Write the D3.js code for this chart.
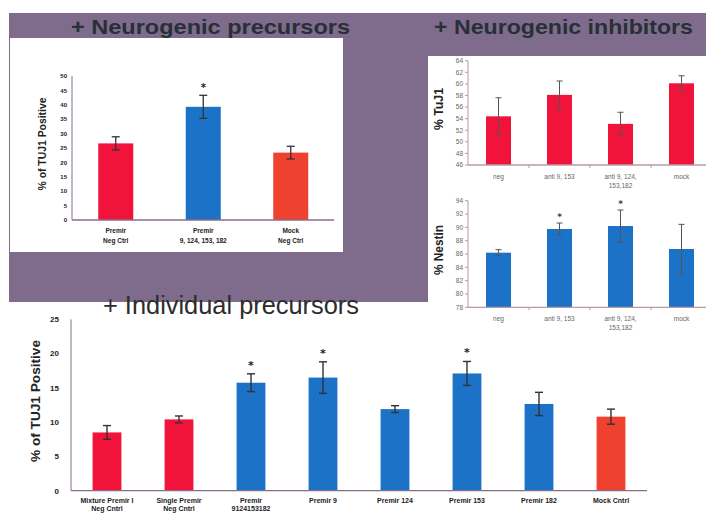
<!DOCTYPE html>
<html><head><meta charset="utf-8">
<script src="https://cdn.jsdelivr.net/npm/d3@7/dist/d3.min.js"></script>
<style>html,body{margin:0;padding:0;background:#fff;}svg{display:block;}</style>
</head><body>
<svg id="chart" width="706" height="513"></svg>
<script>
// ---------- DATA ----------
const precCategories = [["Premir", "Neg Ctrl"], ["Premir", "9, 124, 153, 182"], ["Mock", "Neg Ctrl"]];
const precGroups = ["neg", "treat", "mock"];
const precValues = [26.6, 39.3, 23.4];
const precErrors = [2.3, 4.0, 2.2];
const precStars = [false, true, false];
const precTicks = [0, 5, 10, 15, 20, 25, 30, 35, 40, 45, 50];

const inhCategories = [["neg"], ["anti 9, 153"], ["anti 9, 124,", "153,182"], ["mock"]];
const tuj1Values = [54.4, 58.1, 53.1, 60.1];
const tuj1Errors = [3.2, 2.4, 2.0, 1.3];
const tuj1Stars = [false, false, false, false];
const tuj1Ticks = [46, 48, 50, 52, 54, 56, 58, 60, 62, 64];

const nestinValues = [86.2, 89.75, 90.2, 86.75];
const nestinErrors = [0.45, 0.9, 2.4, 3.7];
const nestinStars = [false, true, true, false];
const nestinTicks = [78, 80, 82, 84, 86, 88, 90, 92, 94];

const indCategories = [["Mixture Premir I", "Neg Cntrl"], ["Single Premir", "Neg Cntrl"], ["Premir", "9124153182"],
  ["Premir 9"], ["Premir 124"], ["Premir 153"], ["Premir 182"], ["Mock Cntrl"]];
const indGroups = ["neg", "neg", "treat", "treat", "treat", "treat", "treat", "mock"];
const indValues = [8.5, 10.4, 15.75, 16.5, 11.9, 17.1, 12.65, 10.8];
const indErrors = [1.0, 0.5, 1.3, 2.3, 0.5, 1.75, 1.7, 1.1];
const indStars = [false, false, true, true, false, true, false, false];
const indTicks = [0, 5, 10, 15, 20, 25];

// ---------- STYLE ----------
const groupColor = {neg: "#f2133b", treat: "#1c72c7", mock: "#ee4130"};
const svg = d3.select("#chart");
const purple = "#7f6b8b";

// background frames
svg.append("rect").attr("x", 9).attr("y", 13).attr("width", 697).attr("height", 289).attr("fill", purple);
svg.append("rect").attr("x", 10).attr("y", 38).attr("width", 333).attr("height", 214).attr("fill", "#fff");
svg.append("rect").attr("x", 428).attr("y", 56).attr("width", 278).attr("height", 280).attr("fill", "#fff");

// titles
function title(text, x, y, len, opts) {
  svg.append("text").attr("x", x).attr("y", y).text(text)
    .attr("font-family", opts.family).attr("font-weight", opts.weight)
    .attr("font-size", opts.size).attr("fill", opts.fill)
    .attr("textLength", len).attr("lengthAdjust", "spacingAndGlyphs");
}
title("+ Neurogenic precursors", 71, 34, 279, {family: "Liberation Sans", weight: "bold", size: 21, fill: "#263036"});
title("+ Neurogenic inhibitors", 434, 34, 259, {family: "Liberation Sans", weight: "bold", size: 21, fill: "#263036"});
title("+ Individual precursors", 103, 314, 256, {family: "Liberation Sans", weight: "normal", size: 25, fill: "#2c2c2c"});

function drawChart(cfg) {
  const g = svg.append("g");
  const x = d3.scaleBand().domain(d3.range(cfg.values.length)).range(cfg.xRange)
    .paddingInner(cfg.pad).paddingOuter(cfg.pad / 2);
  const y = d3.scaleLinear().domain([cfg.ticks[0], cfg.ticks[cfg.ticks.length - 1]]).range(cfg.yRange);
  const y0 = cfg.yRange[0];

  // bars
  g.selectAll("rect.bar").data(cfg.values).join("rect").attr("class", "bar")
    .attr("x", (d, i) => x(i)).attr("width", x.bandwidth())
    .attr("y", d => y(d)).attr("height", d => y0 - y(d))
    .attr("fill", (d, i) => cfg.colors[i]);

  // error bars
  const eb = g.selectAll("g.err").data(cfg.values).join("g").attr("class", "err");
  eb.append("line").attr("x1", (d, i) => x(i) + x.bandwidth() / 2).attr("x2", (d, i) => x(i) + x.bandwidth() / 2)
    .attr("y1", (d, i) => y(d + cfg.errors[i])).attr("y2", (d, i) => y(d - cfg.errors[i]))
    .attr("stroke", cfg.errColor).attr("stroke-width", cfg.errWidth);
  [1, -1].forEach(s => {
    eb.append("line").attr("x1", (d, i) => x(i) + x.bandwidth() / 2 - cfg.cap).attr("x2", (d, i) => x(i) + x.bandwidth() / 2 + cfg.cap)
      .attr("y1", (d, i) => y(d + s * cfg.errors[i])).attr("y2", (d, i) => y(d + s * cfg.errors[i]))
      .attr("stroke", cfg.errColor).attr("stroke-width", cfg.errWidth);
  });

  // stars
  g.selectAll("text.star").data(cfg.values.map((v, i) => ({v, i})).filter(d => cfg.stars[d.i])).join("text")
    .attr("class", "star")
    .attr("x", d => x(d.i) + x.bandwidth() / 2).attr("y", d => y(d.v + cfg.errors[d.i]) - cfg.starGap)
    .attr("text-anchor", "middle").attr("font-family", "DejaVu Sans").attr("font-weight", "bold")
    .attr("font-size", cfg.starSize).attr("fill", cfg.starColor).text("*");

  // axes
  g.append("line").attr("x1", cfg.xRange[0]).attr("x2", cfg.xAxisEnd).attr("y1", y0).attr("y2", y0)
    .attr("stroke", cfg.axisColor).attr("stroke-width", 1.3);
  g.append("line").attr("x1", cfg.xRange[0]).attr("x2", cfg.xRange[0]).attr("y1", y0).attr("y2", cfg.yRange[1])
    .attr("stroke", cfg.axisColor).attr("stroke-width", 1);
  // y ticks
  g.selectAll("line.yt").data(cfg.ticks).join("line").attr("class", "yt")
    .attr("x1", cfg.xRange[0] - cfg.tickLen).attr("x2", cfg.xRange[0]).attr("y1", d => y(d)).attr("y2", d => y(d))
    .attr("stroke", cfg.axisColor);
  g.selectAll("text.yl").data(cfg.ticks).join("text").attr("class", "yl")
    .attr("x", cfg.xRange[0] - cfg.labelGap).attr("y", d => y(d)).attr("dy", "0.35em")
    .attr("text-anchor", "end").attr("font-family", "Liberation Sans").attr("font-weight", cfg.tickWeight)
    .attr("font-size", cfg.tickSize).attr("fill", cfg.tickColor).text(d => d);
  // x band boundary ticks
  if (cfg.xTicks) {
    g.selectAll("line.xt").data(d3.range(1, cfg.values.length)).join("line").attr("class", "xt")
      .attr("x1", i => x(i) - x.step() * x.paddingInner() / 2).attr("x2", i => x(i) - x.step() * x.paddingInner() / 2)
      .attr("y1", y0).attr("y2", y0 + 3).attr("stroke", cfg.axisColor);
  }
  // x labels
  const xl = g.selectAll("text.xl").data(cfg.categories).join("text").attr("class", "xl")
    .attr("text-anchor", "middle").attr("font-family", "Liberation Sans").attr("font-weight", cfg.xWeight)
    .attr("font-size", cfg.xSize).attr("fill", cfg.xColor);
  xl.each(function (lines, i) {
    d3.select(this).selectAll("tspan").data(lines).join("tspan")
      .attr("x", x(i) + x.bandwidth() / 2).attr("y", (l, k) => y0 + cfg.xLabelOffset + k * cfg.xLineH).text(l => l);
  });
  // y title
  g.append("text").attr("transform", `translate(${cfg.yTitle.x},${cfg.yTitle.y}) rotate(-90)`)
    .attr("text-anchor", "middle").attr("dy", "0.35em").attr("font-family", "Liberation Sans").attr("font-weight", "bold")
    .attr("font-size", cfg.yTitle.size).attr("fill", "#222").attr("textLength", cfg.yTitle.len)
    .attr("lengthAdjust", "spacingAndGlyphs").text(cfg.yTitle.text);
}

// Neurogenic precursors
drawChart({
  categories: precCategories, values: precValues, errors: precErrors, stars: precStars, ticks: precTicks,
  colors: precGroups.map(g => groupColor[g]),
  xRange: [72, 334.5], xAxisEnd: 334, yRange: [220, 76], pad: 0.6,
  errColor: "#333", errWidth: 1.3, cap: 4, starGap: 4, starSize: 10, starColor: "#222",
  axisColor: "#8a6c8c", tickLen: 0, labelGap: 5, tickWeight: "bold", tickSize: 6, tickColor: "#222",
  xWeight: "bold", xSize: 6.5, xColor: "#222", xLabelOffset: 13, xLineH: 10,
  yTitle: {text: "% of TUJ1 Positive", x: 42, y: 144, size: 11, len: 93}
});

// % TuJ1
drawChart({
  categories: inhCategories, values: tuj1Values, errors: tuj1Errors, stars: tuj1Stars, ticks: tuj1Ticks,
  colors: tuj1Values.map(() => groupColor.neg),
  xRange: [468, 712], xAxisEnd: 712, yRange: [165, 60.7], pad: 0.59, xTicks: true,
  errColor: "#555", errWidth: 1, cap: 3, starGap: 4, starSize: 9, starColor: "#444",
  axisColor: "#b89aa8", tickLen: 3, labelGap: 5, tickWeight: "normal", tickSize: 6.5, tickColor: "#666",
  xWeight: "normal", xSize: 6.5, xColor: "#666", xLabelOffset: 14, xLineH: 9,
  yTitle: {text: "% TuJ1", x: 438, y: 109, size: 13, len: 42}
});

// % Nestin
drawChart({
  categories: inhCategories, values: nestinValues, errors: nestinErrors, stars: nestinStars, ticks: nestinTicks,
  colors: nestinValues.map(() => groupColor.treat),
  xRange: [468, 712], xAxisEnd: 712, yRange: [307.3, 200.7], pad: 0.59, xTicks: true,
  errColor: "#555", errWidth: 1, cap: 3, starGap: 3, starSize: 9, starColor: "#444",
  axisColor: "#b89aa8", tickLen: 3, labelGap: 5, tickWeight: "normal", tickSize: 6.5, tickColor: "#666",
  xWeight: "normal", xSize: 6.5, xColor: "#666", xLabelOffset: 14, xLineH: 9,
  yTitle: {text: "% Nestin", x: 438, y: 250, size: 13, len: 50}
});

// Individual precursors
drawChart({
  categories: indCategories, values: indValues, errors: indErrors, stars: indStars, ticks: indTicks,
  colors: indGroups.map(g => groupColor[g]),
  xRange: [71, 647], xAxisEnd: 647, yRange: [490.7, 319.3], pad: 0.6,
  errColor: "#333", errWidth: 1.4, cap: 4, starGap: 5, starSize: 11, starColor: "#222",
  axisColor: "#8a6c8c", tickLen: 0, labelGap: 12, tickWeight: "bold", tickSize: 8, tickColor: "#222",
  xWeight: "bold", xSize: 7, xColor: "#222", xLabelOffset: 12, xLineH: 8.3,
  yTitle: {text: "% of TUJ1 Positive", x: 35, y: 401, size: 13, len: 122}
});
</script>
</body></html>
